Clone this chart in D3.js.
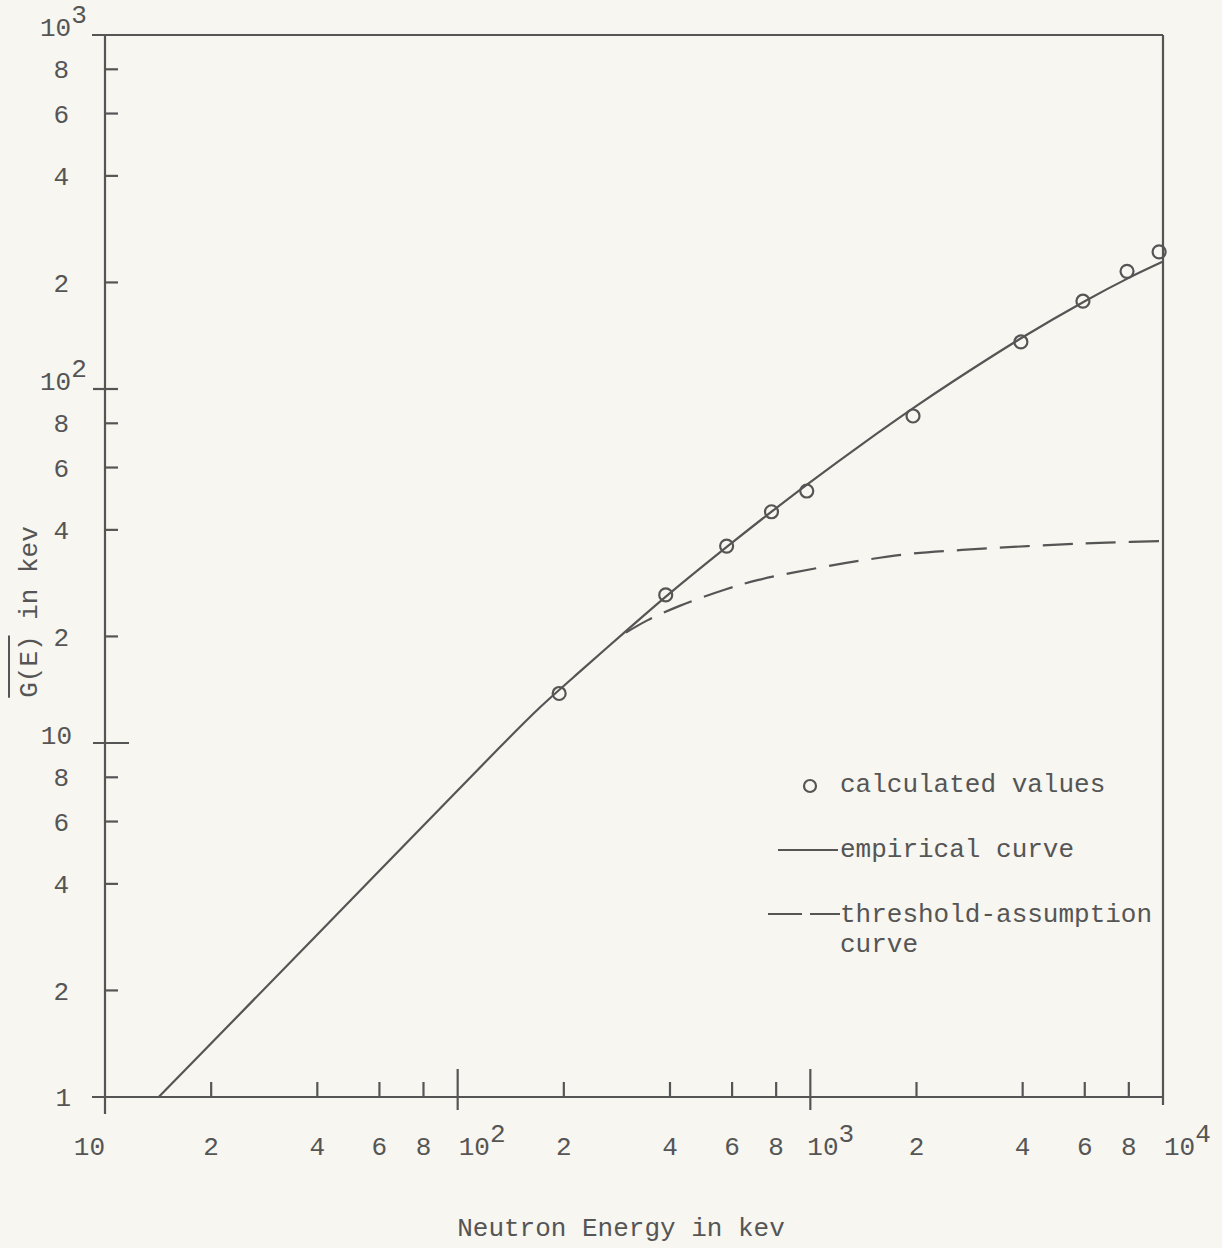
<!DOCTYPE html>
<html>
<head>
<meta charset="utf-8">
<script src="https://cdnjs.cloudflare.com/ajax/libs/d3/7.8.5/d3.min.js"></script>
<style>
  html, body { margin: 0; padding: 0; background: #f7f6f0; }
  svg { display: block; }
  text { font-family: "Liberation Mono", "DejaVu Sans Mono", monospace; fill: #555; }
</style>
</head>
<body>
<svg id="chart" width="1222" height="1248"></svg>
<script>
// calculated values (circles)
var calcE = [194, 389, 579, 776, 977, 1955, 3954, 5929, 7907, 9750];
var calcG = [13.8, 26.2, 36.0, 45.0, 51.5, 83.9, 135.8, 177, 215, 244];

// empirical curve (solid)
var empE = [14.2, 38.7, 131, 171, 230, 300, 400, 600, 800, 1000, 1400, 2000, 2500, 4000, 6000, 8000, 10000];
var empG = [1, 2.78, 9.68, 12.6, 16.4, 20.7, 26.5, 36.8, 46.1, 54.6, 69.8, 89.6, 104, 140, 177, 206, 229];

// threshold-assumption curve (dashed)
var thrE = [300, 345, 426, 571, 713, 1046, 1430, 1955, 2692, 3750, 5200, 6930, 10000];
var thrG = [20.5, 22.2, 24.4, 27.1, 28.9, 31.2, 32.9, 34.3, 35.1, 35.8, 36.4, 36.8, 37.2];

// ticks
var xMinor = [20, 40, 60, 80, 200, 400, 600, 800, 2000, 4000, 6000, 8000];
var xMajor = [100, 1000];
var yMinor = [2, 4, 6, 8, 20, 40, 60, 80, 200, 400, 600, 800];
var yMajor = [10, 100];
var xDecades = [10, 100, 1000, 10000];
var yDecades = [1, 10, 100, 1000];

var ink = "#555";
var svg = d3.select("#chart");

var x = d3.scaleLog().domain([10, 10000]).range([105, 1163]);
var y = d3.scaleLog().domain([1, 1000]).range([1097, 35]);

var x0 = x(10), x1 = x(10000), yb = y(1), yt = y(1000);

// frame
var frame = svg.append("g").attr("stroke", ink).attr("stroke-width", 2.2).attr("fill", "none");
frame.append("line").attr("x1", 92).attr("x2", x1).attr("y1", yt).attr("y2", yt);
frame.append("line").attr("x1", 92).attr("x2", x1).attr("y1", yb).attr("y2", yb);
frame.append("line").attr("x1", x0).attr("x2", x0).attr("y1", yt).attr("y2", yb + 17);
frame.append("line").attr("x1", x1).attr("x2", x1).attr("y1", yt).attr("y2", yb + 8);

// x ticks
frame.selectAll(".xminor").data(xMinor).enter().append("line")
  .attr("x1", d => x(d)).attr("x2", d => x(d))
  .attr("y1", yb - 15).attr("y2", yb);
frame.selectAll(".xmajor").data(xMajor).enter().append("line")
  .attr("x1", d => x(d)).attr("x2", d => x(d))
  .attr("y1", yb - 28).attr("y2", yb + 13);

// y ticks
frame.selectAll(".yminor").data(yMinor).enter().append("line")
  .attr("x1", x0).attr("x2", x0 + 13)
  .attr("y1", d => y(d)).attr("y2", d => y(d));
frame.selectAll(".ymajor").data(yMajor).enter().append("line")
  .attr("x1", x0 - 12).attr("x2", (d, i) => i === 0 ? x0 + 24 : x0 + 13)
  .attr("y1", d => y(d)).attr("y2", d => y(d));

var fs = 26;
var leading = d => String(d).charAt(0);

// x tick labels
svg.selectAll(".xlab").data(xMinor).enter().append("text")
  .attr("x", d => x(d)).attr("y", 1155)
  .attr("text-anchor", "middle").attr("font-size", fs)
  .text(leading);

xDecades.forEach(function(d, i) {
  var t = svg.append("text").attr("y", 1155).attr("font-size", fs);
  if (i === 0) {
    t.attr("x", x(d)).attr("text-anchor", "end").text("10");
  } else {
    t.attr("x", x(d) + (i === 2 ? -3 : 1));
    t.append("tspan").text("10");
    t.append("tspan").attr("dy", -13).text(String(i + 1));
  }
});

// y tick labels
svg.selectAll(".ylab").data(yMinor).enter().append("text")
  .attr("x", 69).attr("y", d => y(d)).attr("dy", "0.35em")
  .attr("text-anchor", "end").attr("font-size", fs)
  .text(leading);

yDecades.forEach(function(d, i) {
  var t = svg.append("text").attr("font-size", fs);
  if (i === 0) {
    t.attr("x", 71).attr("y", y(d)).attr("dy", "0.35em").attr("text-anchor", "end").text("1");
  } else if (i === 1) {
    t.attr("x", 72).attr("y", y(d) - 8).attr("dy", "0.35em").attr("text-anchor", "end").text("10");
  } else {
    t.attr("x", 40).attr("y", y(d) - 8).attr("dy", "0.35em");
    t.append("tspan").text("10");
    t.append("tspan").attr("dy", -13).text(String(i));
  }
});

// curves
var line = d3.line()
  .x(d => x(d[0])).y(d => y(d[1]))
  .curve(d3.curveCatmullRom.alpha(0.5));

svg.append("path")
  .datum(d3.zip(empE, empG))
  .attr("d", line)
  .attr("fill", "none").attr("stroke", ink).attr("stroke-width", 2.2);

svg.append("path")
  .datum(d3.zip(thrE, thrG))
  .attr("d", line)
  .attr("fill", "none").attr("stroke", ink).attr("stroke-width", 2.2)
  .attr("stroke-dasharray", "30,13");

svg.selectAll(".pt").data(d3.zip(calcE, calcG)).enter().append("circle")
  .attr("cx", d => x(d[0])).attr("cy", d => y(d[1])).attr("r", 6.5)
  .attr("fill", "none").attr("stroke", ink).attr("stroke-width", 2.2);

// legend
var lg = svg.append("g");
lg.append("circle").attr("cx", 810).attr("cy", 786).attr("r", 6)
  .attr("fill", "none").attr("stroke", ink).attr("stroke-width", 2.2);
lg.append("text").attr("x", 840).attr("y", 792).attr("font-size", fs).text("calculated values");
lg.append("line").attr("x1", 778).attr("x2", 838).attr("y1", 850).attr("y2", 850)
  .attr("stroke", ink).attr("stroke-width", 2);
lg.append("text").attr("x", 840).attr("y", 857).attr("font-size", fs).text("empirical curve");
lg.append("line").attr("x1", 768).attr("x2", 840).attr("y1", 914).attr("y2", 914)
  .attr("stroke", ink).attr("stroke-width", 2).attr("stroke-dasharray", "34,8");
lg.append("text").attr("x", 840).attr("y", 922).attr("font-size", fs).text("threshold-assumption");
lg.append("text").attr("x", 840).attr("y", 952).attr("font-size", fs).text("curve");

// axis titles
svg.append("text").attr("x", 621).attr("y", 1236).attr("text-anchor", "middle")
  .attr("font-size", fs).text("Neutron Energy in kev");

var yl = svg.append("text")
  .attr("transform", "translate(37,612) rotate(-90)")
  .attr("text-anchor", "middle").attr("font-size", fs)
  .text("G(E) in kev");
var full = yl.node().getComputedTextLength();
var gw = yl.node().getSubStringLength(0, 4);
svg.append("line")
  .attr("x1", 9).attr("x2", 9)
  .attr("y1", 612 + full / 2).attr("y2", 612 + full / 2 - gw)
  .attr("stroke", ink).attr("stroke-width", 2);
</script>
</body>
</html>
